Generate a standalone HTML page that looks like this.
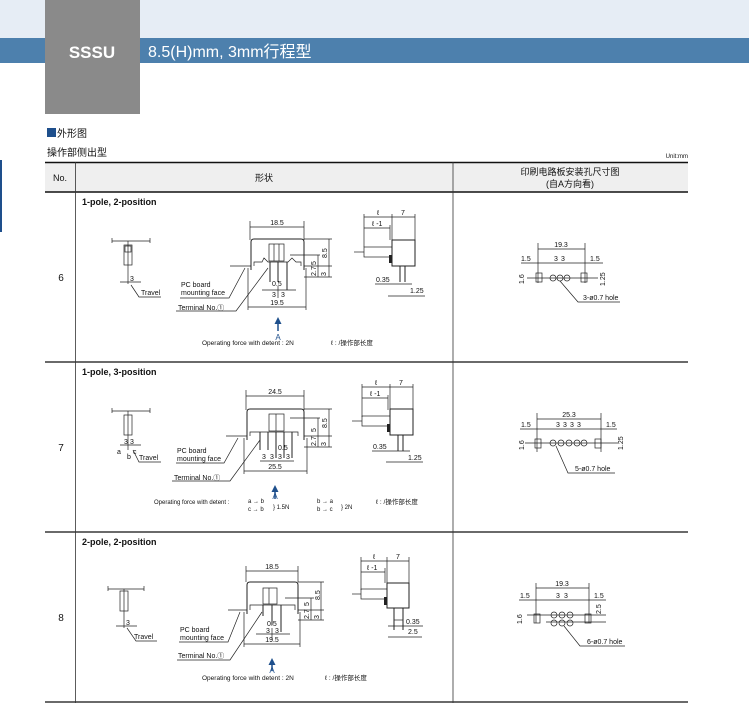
<!DOCTYPE html>
<html><head><meta charset="utf-8"><style>
html,body{margin:0;padding:0;background:#fff;width:749px;height:703px;overflow:hidden}
svg{display:block}
text{font-family:"Liberation Sans","Noto Sans CJK SC",sans-serif;fill:#111}
.d{font-size:7px}
.s{stroke:#222;stroke-width:0.7;fill:none}
.t{stroke:#222;stroke-width:1;fill:none}
</style></head><body>
<svg width="749" height="703" viewBox="0 0 749 703" xmlns="http://www.w3.org/2000/svg">
<rect x="0" y="0" width="749" height="38" fill="#e6edf5"/>
<rect x="0" y="38" width="749" height="25" fill="#4d80ad"/>
<rect x="45" y="0" width="95" height="114" fill="#8a8a8a"/>
<text x="92" y="58" text-anchor="middle" style="font-size:17px;font-weight:bold;fill:#fff">SSSU</text>
<text x="148" y="57" style="font-size:16px;fill:#fff">8.5(H)mm, 3mm行程型</text>
<rect x="47" y="128" width="9" height="9" fill="#1e4f8c"/>
<text x="57" y="137" style="font-size:10px">外形图</text>
<text x="47" y="156" style="font-size:10px">操作部侧出型</text>
<text x="688" y="158" text-anchor="end" style="font-size:6px">Unit:mm</text>
<rect x="0" y="160" width="2" height="72" fill="#1e4f8c"/>
<rect x="45" y="163" width="643" height="29" fill="#efefef"/>
<line x1="45" y1="162.5" x2="688" y2="162.5" stroke="#111" stroke-width="1.6"/>
<line x1="45" y1="192" x2="688" y2="192" stroke="#111" stroke-width="1.6"/>
<line x1="45" y1="362" x2="688" y2="362" stroke="#111" stroke-width="1.2"/>
<line x1="45" y1="532" x2="688" y2="532" stroke="#111" stroke-width="1.2"/>
<line x1="45" y1="702" x2="688" y2="702" stroke="#111" stroke-width="1.2"/>
<line x1="75.5" y1="162" x2="75.5" y2="703" stroke="#333" stroke-width="0.8"/>
<line x1="453" y1="162" x2="453" y2="703" stroke="#333" stroke-width="0.8"/>
<text x="60" y="181" text-anchor="middle" style="font-size:9px">No.</text>
<text x="264" y="181" text-anchor="middle" style="font-size:9px">形状</text>
<text x="570" y="175" text-anchor="middle" style="font-size:9px">印刷电路板安装孔尺寸图</text>
<text x="570" y="187" text-anchor="middle" style="font-size:9px">(自A方向看)</text>
<text x="61" y="281" text-anchor="middle" style="font-size:10px">6</text>
<text x="61" y="451" text-anchor="middle" style="font-size:10px">7</text>
<text x="61" y="621" text-anchor="middle" style="font-size:10px">8</text>

<!-- ROW 1 -->
<g>
<text x="82" y="205" style="font-size:9px;font-weight:bold">1-pole, 2-position</text>
<line class="s" x1="112" y1="241" x2="150" y2="241"/><line class="s" x1="112" y1="238" x2="112" y2="243"/><line class="s" x1="150" y1="238" x2="150" y2="243"/>
<rect class="s" x="124" y="245" width="8" height="20"/><rect class="s" x="125" y="246" width="6" height="6"/>
<line class="s" x1="128" y1="241" x2="128" y2="284"/><line class="s" x1="120" y1="282" x2="141" y2="282"/>
<text class="d" x="130" y="281">3</text>
<polyline class="s" points="131,285 139,297 161,297"/><text class="d" x="141" y="295">Travel</text>
<line class="s" x1="250" y1="221" x2="250" y2="240"/><line class="s" x1="304" y1="221" x2="304" y2="240"/><line class="s" x1="250" y1="227" x2="304" y2="227"/>
<text class="d" x="277" y="225" text-anchor="middle">18.5</text>
<path class="t" d="M251,270 L251,242 Q251,239 254,239 L301,239 Q304,239 304,242 L304,270"/>
<polyline class="s" points="254,266 254,262 262,262 264,258 268,262 288,262 292,258 296,262 301,262 301,266"/>
<rect class="s" x="269" y="244" width="15" height="17"/><line class="s" x1="274" y1="244" x2="274" y2="261"/><line class="s" x1="279" y1="244" x2="279" y2="261"/>
<line class="t" x1="270" y1="262" x2="270" y2="282"/><line class="t" x1="278" y1="262" x2="278" y2="282"/><line class="t" x1="287" y1="262" x2="287" y2="290"/>
<line class="s" x1="230" y1="266" x2="251" y2="266"/>
<line class="s" x1="304" y1="239" x2="332" y2="239"/><line class="s" x1="290" y1="255" x2="320" y2="255"/><line class="s" x1="304" y1="266" x2="332" y2="266"/><line class="s" x1="304" y1="277" x2="332" y2="277"/>
<line class="s" x1="329" y1="239" x2="329" y2="277"/><line class="s" x1="318" y1="255" x2="318" y2="277"/>
<text class="d" transform="translate(327,258) rotate(-90)">8.5</text>
<text class="d" transform="translate(316,265) rotate(-90)">5</text>
<text class="d" transform="translate(316,276) rotate(-90)">2.7</text>
<text class="d" transform="translate(326,276) rotate(-90)">3</text>
<text class="d" x="272" y="286">0.5</text>
<line class="s" x1="262" y1="290" x2="296" y2="290"/><line class="s" x1="278" y1="286" x2="278" y2="298"/>
<text class="d" x="272" y="297">3</text><text class="d" x="281" y="297">3</text>
<line class="s" x1="248" y1="268" x2="248" y2="310"/><line class="s" x1="306" y1="268" x2="306" y2="310"/><line class="s" x1="248" y1="307" x2="306" y2="307"/>
<text class="d" x="277" y="305" text-anchor="middle">19.5</text>
<text class="d" x="181" y="287">PC board</text><text class="d" x="181" y="295">mounting face</text>
<polyline class="s" points="245,268 229,298 180,298"/>
<polyline class="s" points="268,268 236,311 176,311"/><text class="d" x="178" y="310">Terminal No.①</text>
<line x1="278" y1="322" x2="278" y2="331" stroke="#1e4f8c" stroke-width="1.5"/><polygon points="274.5,324 281.5,324 278,317" fill="#1e4f8c"/>
<text x="278" y="340" text-anchor="middle" style="font-size:8px;fill:#1e4f8c">A</text>
<text x="202" y="345" style="font-size:6.5px">Operating force with detent : 2N</text>
<text x="331" y="345" style="font-size:6.5px">ℓ : /操作部长度</text>
<line class="s" x1="364" y1="214" x2="364" y2="247"/><line class="s" x1="392" y1="214" x2="392" y2="240"/><line class="s" x1="415" y1="214" x2="415" y2="240"/><line class="s" x1="390" y1="225" x2="390" y2="240"/>
<line class="s" x1="364" y1="217" x2="415" y2="217"/><line class="s" x1="364" y1="228" x2="390" y2="228"/>
<text class="d" x="377" y="215">ℓ</text><text class="d" x="401" y="215">7</text><text class="d" x="372" y="226">ℓ -1</text>
<rect class="t" x="392" y="240" width="23" height="26"/>
<rect class="s" x="364" y="247" width="28" height="10"/><line class="s" x1="354" y1="252" x2="364" y2="252"/>
<rect x="389" y="255" width="3" height="8" fill="#222"/>
<line class="t" x1="400" y1="266" x2="400" y2="282"/><line class="t" x1="405" y1="266" x2="405" y2="282"/>
<text class="d" x="376" y="282">0.35</text><line class="s" x1="375" y1="284" x2="412" y2="284"/>
<text class="d" x="410" y="293">1.25</text><line class="s" x1="388" y1="296" x2="425" y2="296"/>
<line class="s" x1="538" y1="243" x2="538" y2="283"/><line class="s" x1="585" y1="243" x2="585" y2="283"/><line class="s" x1="538" y1="249" x2="585" y2="249"/>
<text class="d" x="561" y="247" text-anchor="middle">19.3</text>
<line class="s" x1="521" y1="263" x2="603" y2="263"/>
<text class="d" x="521" y="261">1.5</text><text class="d" x="590" y="261">1.5</text><text class="d" x="554" y="261">3</text><text class="d" x="561" y="261">3</text>
<line class="s" x1="527" y1="278" x2="598" y2="278"/>
<rect class="s" x="536" y="273" width="6" height="9"/><rect class="s" x="581" y="273" width="6" height="9"/>
<circle class="s" cx="553" cy="278" r="3"/><circle class="s" cx="560" cy="278" r="3"/><circle class="s" cx="567" cy="278" r="3"/>
<text class="d" transform="translate(524,284) rotate(-90)">1.6</text><text class="d" transform="translate(605,286) rotate(-90)">1.25</text>
<polyline class="s" points="560,281 578,302 620,302"/><text class="d" x="583" y="300">3-ø0.7 hole</text>
</g>

<!-- ROW 2 -->
<g>
<text x="82" y="375" style="font-size:9px;font-weight:bold">1-pole, 3-position</text>
<line class="s" x1="112" y1="411" x2="150" y2="411"/><line class="s" x1="112" y1="408" x2="112" y2="413"/><line class="s" x1="150" y1="408" x2="150" y2="413"/>
<rect class="s" x="124" y="415" width="8" height="20"/>
<line class="s" x1="128" y1="411" x2="128" y2="450"/><line class="s" x1="120" y1="445" x2="141" y2="445"/>
<text class="d" x="124" y="444">3</text><text class="d" x="130" y="444">3</text>
<text class="d" x="117" y="454">a</text><text class="d" x="127" y="459">b</text><text class="d" x="133" y="454">c</text>
<polyline class="s" points="133,450 139,462 161,462"/><text class="d" x="139" y="460">Travel</text>
<line class="s" x1="246" y1="390" x2="246" y2="410"/><line class="s" x1="304" y1="390" x2="304" y2="410"/><line class="s" x1="246" y1="396" x2="304" y2="396"/>
<text class="d" x="275" y="394" text-anchor="middle">24.5</text>
<path class="t" d="M247,440 L247,412 Q247,409 250,409 L301,409 Q304,409 304,412 L304,440"/>
<polyline class="s" points="250,436 250,432 298,432 298,436"/>
<rect class="s" x="269" y="414" width="15" height="17"/><line class="s" x1="276" y1="414" x2="276" y2="431"/>
<line class="t" x1="260" y1="432" x2="260" y2="450"/><line class="t" x1="268" y1="432" x2="268" y2="450"/><line class="t" x1="276" y1="432" x2="276" y2="458"/><line class="t" x1="284" y1="432" x2="284" y2="458"/><line class="t" x1="292" y1="432" x2="292" y2="458"/>
<line class="s" x1="226" y1="436" x2="247" y2="436"/>
<line class="s" x1="304" y1="409" x2="332" y2="409"/><line class="s" x1="290" y1="418" x2="320" y2="418"/><line class="s" x1="304" y1="436" x2="332" y2="436"/><line class="s" x1="304" y1="447" x2="332" y2="447"/>
<line class="s" x1="329" y1="409" x2="329" y2="447"/><line class="s" x1="318" y1="418" x2="318" y2="447"/>
<text class="d" transform="translate(327,428) rotate(-90)">8.5</text>
<text class="d" transform="translate(316,432) rotate(-90)">5</text>
<text class="d" transform="translate(316,446) rotate(-90)">2.7</text>
<text class="d" transform="translate(326,446) rotate(-90)">3</text>
<text class="d" x="278" y="450">0.5</text>
<line class="s" x1="260" y1="461" x2="294" y2="461"/>
<text class="d" x="262" y="459">3</text><text class="d" x="270" y="459">3</text><text class="d" x="278" y="459">3</text><text class="d" x="286" y="459">3</text>
<line class="s" x1="244" y1="438" x2="244" y2="474"/><line class="s" x1="307" y1="438" x2="307" y2="474"/><line class="s" x1="244" y1="471" x2="307" y2="471"/>
<text class="d" x="275" y="469" text-anchor="middle">25.5</text>
<text class="d" x="177" y="453">PC board</text><text class="d" x="177" y="461">mounting face</text>
<polyline class="s" points="238,438 224,463 176,463"/>
<polyline class="s" points="260,440 230,481 172,481"/><text class="d" x="174" y="480">Terminal No.①</text>
<line x1="275" y1="490" x2="275" y2="499" stroke="#1e4f8c" stroke-width="1.5"/><polygon points="271.5,492 278.5,492 275,485" fill="#1e4f8c"/>
<text x="275" y="499" text-anchor="middle" style="font-size:8px;fill:#1e4f8c">A</text>
<text x="154" y="504" style="font-size:6px">Operating force with detent :</text>
<text x="248" y="503" style="font-size:6px">a → b</text><text x="248" y="511" style="font-size:6px">c → b</text><text x="273" y="509" style="font-size:6px">} 1.5N</text>
<text x="317" y="503" style="font-size:6px">b → a</text><text x="317" y="511" style="font-size:6px">b → c</text><text x="341" y="509" style="font-size:6px">} 2N</text>
<text x="376" y="504" style="font-size:6.5px">ℓ : /操作部长度</text>
<line class="s" x1="362" y1="384" x2="362" y2="417"/><line class="s" x1="390" y1="384" x2="390" y2="410"/><line class="s" x1="413" y1="384" x2="413" y2="410"/><line class="s" x1="388" y1="395" x2="388" y2="410"/>
<line class="s" x1="362" y1="387" x2="413" y2="387"/><line class="s" x1="362" y1="398" x2="388" y2="398"/>
<text class="d" x="375" y="385">ℓ</text><text class="d" x="399" y="385">7</text><text class="d" x="370" y="396">ℓ -1</text>
<rect class="t" x="390" y="409" width="23" height="26"/>
<rect class="s" x="362" y="416" width="28" height="10"/><line class="s" x1="352" y1="421" x2="362" y2="421"/>
<rect x="387" y="424" width="3" height="8" fill="#222"/>
<line class="t" x1="398" y1="435" x2="398" y2="451"/><line class="t" x1="403" y1="435" x2="403" y2="451"/>
<text class="d" x="373" y="449">0.35</text><line class="s" x1="372" y1="451" x2="410" y2="451"/>
<text class="d" x="408" y="460">1.25</text><line class="s" x1="386" y1="462" x2="423" y2="462"/>
<line class="s" x1="537" y1="413" x2="537" y2="452"/><line class="s" x1="601" y1="413" x2="601" y2="452"/><line class="s" x1="537" y1="419" x2="601" y2="419"/>
<text class="d" x="569" y="417" text-anchor="middle">25.3</text>
<line class="s" x1="520" y1="429" x2="617" y2="429"/>
<text class="d" x="521" y="427">1.5</text><text class="d" x="606" y="427">1.5</text>
<text class="d" x="556" y="427">3</text><text class="d" x="563" y="427">3</text><text class="d" x="570" y="427">3</text><text class="d" x="577" y="427">3</text>
<line class="s" x1="525" y1="443" x2="618" y2="443"/>
<rect class="s" x="535" y="439" width="6" height="9"/><rect class="s" x="595" y="439" width="6" height="9"/>
<circle class="s" cx="553" cy="443" r="3"/><circle class="s" cx="561" cy="443" r="3"/><circle class="s" cx="569" cy="443" r="3"/><circle class="s" cx="577" cy="443" r="3"/><circle class="s" cx="584" cy="443" r="3"/>
<text class="d" transform="translate(524,450) rotate(-90)">1.6</text><text class="d" transform="translate(623,450) rotate(-90)">1.25</text>
<polyline class="s" points="556,446 568,473 615,473"/><text class="d" x="575" y="471">5-ø0.7 hole</text>
</g>

<!-- ROW 3 -->
<g>
<text x="82" y="545" style="font-size:9px;font-weight:bold">2-pole, 2-position</text>
<line class="s" x1="108" y1="589" x2="144" y2="589"/><line class="s" x1="108" y1="586" x2="108" y2="591"/><line class="s" x1="144" y1="586" x2="144" y2="591"/>
<rect class="s" x="120" y="591" width="8" height="20"/>
<line class="s" x1="124" y1="589" x2="124" y2="628"/><line class="s" x1="116" y1="626" x2="137" y2="626"/>
<text class="d" x="126" y="625">3</text>
<polyline class="s" points="127,628 136,641 157,641"/><text class="d" x="134" y="639">Travel</text>
<line class="s" x1="246" y1="566" x2="246" y2="582"/><line class="s" x1="298" y1="566" x2="298" y2="582"/><line class="s" x1="246" y1="571" x2="298" y2="571"/>
<text class="d" x="272" y="569" text-anchor="middle">18.5</text>
<path class="t" d="M247,614 L247,585 Q247,582 250,582 L295,582 Q298,582 298,585 L298,614"/>
<polyline class="s" points="250,610 250,605 295,605 295,610"/>
<rect class="s" x="263" y="588" width="14" height="16"/><line class="s" x1="269" y1="588" x2="269" y2="604"/>
<line class="t" x1="263" y1="605" x2="263" y2="616"/><line class="t" x1="272" y1="605" x2="272" y2="625"/><line class="t" x1="281" y1="605" x2="281" y2="632"/>
<line class="s" x1="228" y1="610" x2="247" y2="610"/>
<line class="s" x1="298" y1="582" x2="324" y2="582"/><line class="s" x1="285" y1="598" x2="314" y2="598"/><line class="s" x1="298" y1="610" x2="324" y2="610"/><line class="s" x1="298" y1="620" x2="324" y2="620"/>
<line class="s" x1="321" y1="582" x2="321" y2="620"/><line class="s" x1="311" y1="598" x2="311" y2="620"/>
<text class="d" transform="translate(320,600) rotate(-90)">8.5</text>
<text class="d" transform="translate(309,606) rotate(-90)">5</text>
<text class="d" transform="translate(309,619) rotate(-90)">2.7</text>
<text class="d" transform="translate(319,619) rotate(-90)">3</text>
<text class="d" x="267" y="626">0.5</text>
<line class="s" x1="256" y1="634" x2="290" y2="634"/><line class="s" x1="272" y1="628" x2="272" y2="640"/>
<text class="d" x="266" y="633">3</text><text class="d" x="275" y="633">3</text>
<line class="s" x1="244" y1="612" x2="244" y2="647"/><line class="s" x1="300" y1="612" x2="300" y2="647"/><line class="s" x1="244" y1="644" x2="300" y2="644"/>
<text class="d" x="272" y="642" text-anchor="middle">19.5</text>
<text class="d" x="180" y="632">PC board</text><text class="d" x="180" y="640">mounting face</text>
<polyline class="s" points="240,612 228,642 179,642"/>
<polyline class="s" points="262,612 230,660 177,660"/><text class="d" x="178" y="658">Terminal No.①</text>
<line x1="272" y1="663" x2="272" y2="671" stroke="#1e4f8c" stroke-width="1.5"/><polygon points="268.5,665 275.5,665 272,658" fill="#1e4f8c"/>
<text x="272" y="673" text-anchor="middle" style="font-size:8px;fill:#1e4f8c">A</text>
<text x="202" y="680" style="font-size:6.5px">Operating force with detent : 2N</text>
<text x="325" y="680" style="font-size:6.5px">ℓ : /操作部长度</text>
<line class="s" x1="361" y1="557" x2="361" y2="590"/><line class="s" x1="387" y1="557" x2="387" y2="583"/><line class="s" x1="409" y1="557" x2="409" y2="583"/><line class="s" x1="385" y1="568" x2="385" y2="583"/>
<line class="s" x1="361" y1="561" x2="409" y2="561"/><line class="s" x1="361" y1="572" x2="385" y2="572"/>
<text class="d" x="373" y="559">ℓ</text><text class="d" x="396" y="559">7</text><text class="d" x="367" y="570">ℓ -1</text>
<rect class="t" x="387" y="583" width="22" height="25"/>
<rect class="s" x="361" y="589" width="26" height="10"/><line class="s" x1="352" y1="594" x2="361" y2="594"/>
<rect x="384" y="597" width="3" height="8" fill="#222"/>
<rect class="s" x="394" y="608" width="9" height="12"/>
<line class="t" x1="394" y1="608" x2="394" y2="630"/><line class="t" x1="403" y1="608" x2="403" y2="630"/>
<text class="d" x="406" y="624">0.35</text><line class="s" x1="388" y1="626" x2="423" y2="626"/>
<text class="d" x="408" y="634">2.5</text><line class="s" x1="388" y1="637" x2="422" y2="637"/>
<line class="s" x1="536" y1="583" x2="536" y2="623"/><line class="s" x1="589" y1="583" x2="589" y2="623"/><line class="s" x1="536" y1="588" x2="589" y2="588"/>
<text class="d" x="562" y="586" text-anchor="middle">19.3</text>
<line class="s" x1="519" y1="600" x2="606" y2="600"/>
<text class="d" x="520" y="598">1.5</text><text class="d" x="594" y="598">1.5</text><text class="d" x="556" y="598">3</text><text class="d" x="564" y="598">3</text>
<line class="s" x1="527" y1="615" x2="606" y2="615"/><line class="s" x1="546" y1="622" x2="606" y2="622"/>
<rect class="s" x="534" y="614" width="6" height="9"/><rect class="s" x="585" y="614" width="6" height="9"/>
<circle class="s" cx="554" cy="615" r="3"/><circle class="s" cx="562" cy="615" r="3"/><circle class="s" cx="570" cy="615" r="3"/>
<circle class="s" cx="554" cy="623" r="3"/><circle class="s" cx="562" cy="623" r="3"/><circle class="s" cx="570" cy="623" r="3"/>
<text class="d" transform="translate(522,624) rotate(-90)">1.6</text><text class="d" transform="translate(601,614) rotate(-90)">2.5</text>
<polyline class="s" points="564,626 580,646 625,646"/><text class="d" x="587" y="644">6-ø0.7 hole</text>
</g>
</svg>
</body></html>
